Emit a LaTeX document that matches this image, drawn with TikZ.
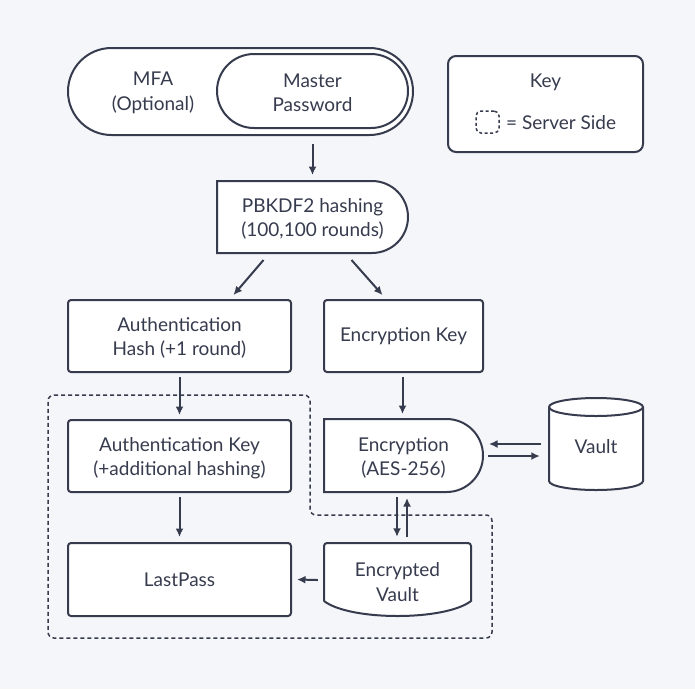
\documentclass[tikz,border=0pt]{standalone}
\usepackage{fontspec}
\setmainfont{Lato}
\usetikzlibrary{shapes.misc,arrows.meta,calc}
\definecolor{bg}{HTML}{F5F6F9}
\definecolor{ink}{HTML}{363B4E}
\begin{document}
\begin{tikzpicture}[x=1pt,y=-1pt,
  font=\fontsize{19}{24.5}\selectfont,
  every node/.style={text=ink},
  box/.style={draw=ink, fill=white, line width=2pt, rounded corners=3pt, minimum width=223pt, minimum height=72pt, align=center, inner sep=0pt},
  pill/.style={draw=ink, fill=white, line width=2pt, rounded rectangle, align=center, inner sep=0pt},
  half/.style={pill, rounded rectangle left arc=none},
  plain/.style={align=center, inner sep=0pt},
  arr/.style={draw=ink, line width=2pt, -{Latex[length=8.5pt,width=8pt]}},
  server/.style={draw=ink, line width=1.5pt, dash pattern=on 4pt off 3pt, rounded corners=6pt}]
\fill[bg] (0,0) rectangle (695,689);
\useasboundingbox (0,0) rectangle (695,689);

% server side region
\draw[server] (48,395) -- (310,395) -- (310,515) -- (492,515) -- (492,638) -- (48,638) -- cycle;

% top pill
\node[pill, minimum width=345pt, minimum height=87pt] (mfa) at (240.5,91.5) {};
\node[plain] (mfatext) at (153,93) {MFA\\(Optional)};
\node[pill, minimum width=191pt, minimum height=74pt] (mp) at (312.5,91) {};
\node[plain] (mptext) at (312.5,93) {Master\\Password};

% key
\node[box, rounded corners=8pt, minimum width=195pt, minimum height=96pt] (key) at (545.5,104) {};
\node[plain] (keytitle) at (545.5,82) {Key};
\node[draw=ink, line width=1.5pt, dash pattern=on 3pt off 2.5pt, rounded corners=5pt, minimum width=23pt, minimum height=22pt, inner sep=0pt] (keysym) at (487.5,122) {};
\node[plain, anchor=west] (keytext) at (506,123) {= Server Side};

% main nodes
\node[half, minimum width=191pt, minimum height=72pt] (pbk) at (312.5,217) {};
\node[plain] (pbktext) at (312.5,219) {PBKDF2 hashing\\(100,100 rounds)};
\node[box] (ah) at (179.5,336) {};
\node[plain] (ahtext) at (179.5,338) {Authentication\\Hash (+1 round)};
\node[box, minimum width=159pt] (ek) at (403.5,336) {Encryption Key};
\node[box] (ak) at (179.5,456) {};
\node[plain] (aktext) at (179.5,458) {Authentication Key\\(+additional hashing)};
\node[half, minimum width=159pt, minimum height=73pt] (enc) at (403.5,455.5) {};
\node[plain] (enctext) at (403.5,458) {Encryption\\(AES-256)};
\node[box, minimum height=73pt] (lp) at (179.5,579.5) {LastPass};

% vault cylinder
\filldraw[draw=ink, fill=white, line width=2pt] (549,407) -- (549,481)
  arc[start angle=180, end angle=360, x radius=47pt, y radius=9pt] -- (643,407)
  arc[start angle=0, end angle=180, x radius=47pt, y radius=9pt] -- cycle;
\draw[ink, line width=2pt] (549,407) arc[start angle=180, end angle=360, x radius=47pt, y radius=9pt];
\node[plain, minimum width=94pt, minimum height=92pt] (vault) at (596,447) {Vault};

% encrypted vault
\filldraw[draw=ink, fill=white, line width=2pt] (324,601) -- (324,546) [rounded corners=3pt] -- (324,543) -- (471,543) [sharp corners] -- (471,601)
  .. controls (445,621) and (350,621) .. (324,601);
\node[plain, minimum width=147pt, minimum height=75pt] (ev) at (397.5,582) {Encrypted\\Vault};

% connectors
\draw[arr] ($(mp.south)+(0,15)$) -- ($(pbk.north)+(0,-5)$);
\draw[arr] ($(pbk.south)+(-49,6)$) -- ($(ah.north)+(54,-4)$);
\draw[arr] ($(pbk.south)+(39,6)$) -- ($(ek.north)+(-21,-4)$);
\draw[arr] ($(ah.south)+(0,4)$) -- ($(ak.north)+(0,-4)$);
\draw[arr] ($(ek.south)+(-1,4)$) -- ($(enc.north)+(-1,-4)$);
\draw[arr] ($(ak.south)+(0,4)$) -- ($(lp.north)+(0,-5)$);
\draw[arr] ($(vault.west)+(-8,-3)$) -- ($(enc.east)+(5,-11.5)$);
\draw[arr] ($(enc.east)+(4,0.5)$) -- ($(vault.west)+(-9,9)$);
\draw[arr] ($(enc.south)+(-6.5,4)$) -- ($(ev.north)+(-0.5,-7.5)$);
\draw[arr] ($(ev.north)+(9.5,-7.5)$) -- ($(enc.south)+(3.5,5)$);
\draw[arr] ($(ev.west)+(-6,-2)$) -- ($(lp.east)+(5,0)$);
\end{tikzpicture}
\end{document}
